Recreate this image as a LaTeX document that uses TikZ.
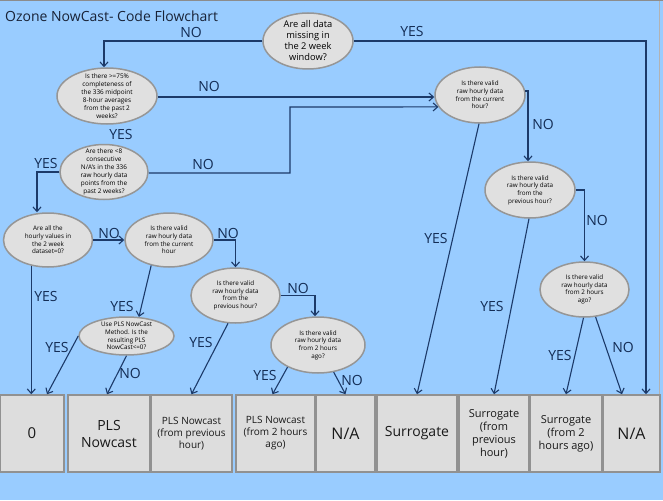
\documentclass[tikz,border=0pt]{standalone}
\usepackage{fontspec}
\setmainfont{Open Sans}
\usetikzlibrary{shapes.geometric,arrows.meta}
\definecolor{bg}{RGB}{153,204,255}
\definecolor{ln}{RGB}{28,58,105}
\definecolor{labc}{RGB}{20,45,85}
\definecolor{elf}{RGB}{224,224,224}
\definecolor{eld}{RGB}{150,150,150}
\definecolor{bxf}{RGB}{221,221,221}
\definecolor{bxd}{RGB}{145,145,145}
\definecolor{ttl}{RGB}{25,35,55}
\begin{document}
\begin{tikzpicture}[x=1pt,y=-1pt,
  q/.style={ellipse,draw=eld,fill=elf,line width=1.5pt,inner sep=0pt},
  qt/.style={align=center,inner sep=0pt,text=black,font=\fontsize{6.3}{7.6}\selectfont},
  res/.style={rectangle,draw=bxd,fill=bxf,line width=1.5pt,minimum height=77,inner sep=0pt,align=center,text=black!90},
  arr/.style={draw=ln,line width=1.1pt,-{Straight Barb[length=4.5pt,width=8pt]}},
  lab/.style={text=labc,inner sep=0pt,font=\fontsize{14}{16}\selectfont}]
\useasboundingbox (0,0) rectangle (663,500);
\fill[bg] (0,0) rectangle (663,500);
\fill[black!45] (0,0) rectangle (663,1.5);
\draw[black!30,line width=0.8pt] (659.5,1.5) -- (659.5,395);

% title
\node[anchor=west,inner sep=0pt,text=ttl,font=\fontsize{14}{16}\selectfont] (title) at (5,16) {Ozone NowCast- Code Flowchart};

% decision ellipses
\node[q,minimum width=90,minimum height=56] (e1) at (308,41) {};
\node[qt,font=\fontsize{9.3}{11}\selectfont] (e1t) at (e1) {Are all data\\missing in\\the 2 week\\window?};
\node[q,minimum width=100,minimum height=56] (e2) at (107,96) {};
\node[qt,font=\fontsize{6.4}{8}\selectfont] (e2t) at (e2) {Is there {>=}75\%\\completeness of\\the 336 midpoint\\8-hour averages\\from the past 2\\weeks?};
\node[q,minimum width=88,minimum height=55] (e3) at (104,172) {};
\node[qt,font=\fontsize{6.4}{8}\selectfont] (e3t) at (e3) {Are there {<}8\\consecutive\\N/A's in the 336\\raw hourly data\\points from the\\past 2 weeks?};
\node[q,minimum width=89,minimum height=54] (e4) at (48,240) {};
\node[qt] (e4t) at (e4) {Are all the\\hourly values in\\the 2 week\\dataset=0?};
\node[q,minimum width=88,minimum height=54] (e5) at (169,240) {};
\node[qt] (e5t) at (e5) {Is there valid\\raw hourly data\\from the current\\hour};
\node[q,minimum width=89,minimum height=55] (e6) at (235.5,295.5) {};
\node[qt] (e6t) at (e6) {Is there valid\\raw hourly data\\from the\\previous hour?};
\node[q,minimum width=95,minimum height=38] (e7) at (126.5,336) {};
\node[qt] (e7t) at (e7) {Use PLS NowCast\\Method. Is the\\resulting PLS\\NowCast{<}=0?};
\node[q,minimum width=94,minimum height=56] (e8) at (318,345) {};
\node[qt] (e8t) at (e8) {Is there valid\\raw hourly data\\from 2 hours\\ago?};
\node[q,minimum width=90,minimum height=56] (e9) at (480,95) {};
\node[qt] (e9t) at (e9) {Is there valid\\raw hourly data\\from the current\\hour?};
\node[q,minimum width=90,minimum height=56] (e10) at (530,190) {};
\node[qt] (e10t) at (e10) {Is there valid\\raw hourly data\\from the\\previous hour?};
\node[q,minimum width=89,minimum height=55] (e11) at (584.5,289.5) {};
\node[qt] (e11t) at (e11) {Is there valid\\raw hourly data\\from 2 hours\\ago?};

% result boxes
\node[res,minimum width=64,font=\fontsize{15}{17}\selectfont] (b0) at (32,433.5) {0};
\node[res,minimum width=82,font=\fontsize{14}{17}\selectfont] (b1) at (109,433.5) {PLS\\Nowcast};
\node[res,minimum width=81,font=\fontsize{10}{12}\selectfont] (b2) at (191.5,433.5) {PLS Nowcast\\(from previous\\hour)};
\node[res,minimum width=79,font=\fontsize{10}{12}\selectfont] (b3) at (275.5,433.5) {PLS Nowcast\\(from 2 hours\\ago)};
\node[res,minimum width=59,font=\fontsize{16}{18}\selectfont] (b4) at (345.5,433.5) {N/A};
\node[res,minimum width=80,font=\fontsize{14}{16}\selectfont] (b5) at (417,433.5) {Surrogate};
\node[res,minimum width=70,font=\fontsize{11}{13}\selectfont] (b6) at (494,433.5) {Surrogate\\(from\\previous\\hour)};
\node[res,minimum width=72,font=\fontsize{11}{13}\selectfont] (b7) at (566,433.5) {Surrogate\\(from 2\\hours ago)};
\node[res,minimum width=57,font=\fontsize{16}{18}\selectfont] (b8) at (631.5,433.5) {N/A};

% connectors
\coordinate (k1) at (290,107);
\draw[arr] (e1.west) -| ([xshift=-3pt]e2.north);
\draw[arr] (e1.east) -| ([xshift=14.5pt]b8.north);
\draw[arr] ([yshift=-1pt]e2.east) -- ([yshift=-1pt]e2.east -| e9.west);
\draw[arr] ([yshift=-1pt]e3.east) -| (k1) -- (e9.196);
\draw[arr] (e3.west) -| ([xshift=-11pt]e4.north);
\draw[arr] (e4.east) -- (e5.west);
\draw[arr] (e4.237) -- (e4.237 |- b0.north);
\draw[arr] (e5.235) -- (e7.57);
\draw[arr] (e5.east) -| (e6.north);
\draw[arr] (e7.west) -- ([xshift=15pt]b0.north);
\draw[arr] (e7.south) -- ([xshift=-2pt]b1.north);
\draw[arr] (e6.255) -- (b2.north);
\draw[arr] (e6.east) -| ([xshift=-3pt]e8.north);
\draw[arr] (e8.216) -- ([xshift=-3pt]b3.north);
\draw[arr] (e8.300) -- (b4.north);
\draw[arr] (e9.268) -- (b5.north);
\draw[arr] (e9.5) -| ([xshift=-2pt]e10.north);
\draw[arr] (e10.268) -- (b6.north);
\draw[arr] (e10.east) -| (e11.north);
\draw[arr] (e11.268) -- (b7.north);
\draw[arr] (e11.292) -- ([xshift=-9.5pt]b8.north);

% labels
\node[lab] (l1) at (191,32) {NO};
\node[lab] (l2) at (412,32) {YES};
\node[lab] (l3) at (209,86) {NO};
\node[lab] (l4) at (121,134) {YES};
\node[lab] (l5) at (203,164) {NO};
\node[lab] (l6) at (46,163) {YES};
\node[lab] (l7) at (109,233) {NO};
\node[lab] (l8) at (46,296) {YES};
\node[lab] (l9) at (122,306) {YES};
\node[lab] (l10) at (228,233) {NO};
\node[lab] (l11) at (57,347) {YES};
\node[lab] (l12) at (130,373) {NO};
\node[lab] (l13) at (201,342) {YES};
\node[lab] (l14) at (298,288) {NO};
\node[lab] (l15) at (265,375) {YES};
\node[lab] (l16) at (352,380) {NO};
\node[lab] (l17) at (436,238) {YES};
\node[lab] (l18) at (543,124) {NO};
\node[lab] (l19) at (492,306) {YES};
\node[lab] (l20) at (597,220) {NO};
\node[lab] (l21) at (560,355) {YES};
\node[lab] (l22) at (623,347) {NO};
\end{tikzpicture}
\end{document}
